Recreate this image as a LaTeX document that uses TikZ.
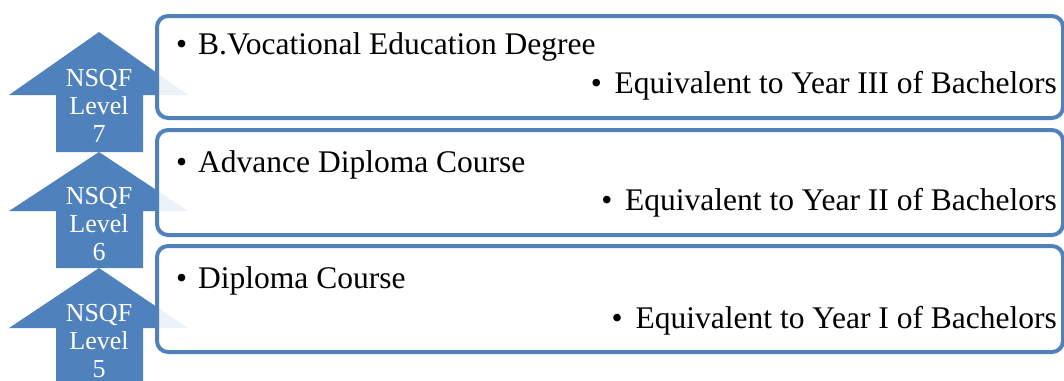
\documentclass[tikz,border=0pt]{standalone}
\usepackage{fontspec}
\setmainfont{Liberation Serif}
\definecolor{accent}{RGB}{79,129,189}
\begin{document}
\begin{tikzpicture}[x=1pt,y=-1pt,
  levelarrow/.style={fill=accent,draw=none},
  leveltext/.style={text=white,align=center,inner sep=0pt,font=\fontsize{26}{28}\selectfont},
  stagebox/.style={draw=accent,line width=4pt,rounded corners=11pt,fill=white,fill opacity=0.9,
     minimum width=906pt,inner sep=0pt,anchor=north west},
  itemtext/.style={inner sep=0pt,font=\fontsize{31.5}{36}\selectfont,text=black}]
\useasboundingbox (0,0) rectangle (1064,380);
% arrows (level 5 first, then 6, then 7)
\foreach \t/\b/\bot/\name in {268/328/392/a5,152/211/268/a6,32/95/152/a7}{
  \path[levelarrow] (99,\t) -- (188,\b) -- (143,\b) -- (143,\bot) -- (56,\bot) -- (56,\b) -- (9,\b) -- cycle;
}
\node[leveltext] (t7) at (99,106) {NSQF\\Level\\7};
\node[leveltext] (t6) at (99,224) {NSQF\\Level\\6};
\node[leveltext] (t5) at (99,341) {NSQF\\Level\\5};
% boxes
\node[stagebox,minimum height=102pt] (b7) at (155,14) {};
\node[stagebox,minimum height=105pt] (b6) at (155,128) {};
\node[stagebox,minimum height=106pt] (b5) at (155,244) {};
% texts
\node[itemtext,anchor=base west] (d7) at (176,54) {\makebox[22pt][l]{•}B.Vocational Education Degree};
\node[itemtext,anchor=base east] (e7) at (1057,93) {\makebox[24pt][l]{•}Equivalent to Year III of Bachelors};
\node[itemtext,anchor=base west] (d6) at (176,172) {\makebox[22pt][l]{•}Advance Diploma Course};
\node[itemtext,anchor=base east] (e6) at (1057,210) {\makebox[24pt][l]{•}Equivalent to Year II of Bachelors};
\node[itemtext,anchor=base west] (d5) at (176,288) {\makebox[22pt][l]{•}Diploma Course};
\node[itemtext,anchor=base east] (e5) at (1057,328) {\makebox[24pt][l]{•}Equivalent to Year I of Bachelors};
\end{tikzpicture}
\end{document}
